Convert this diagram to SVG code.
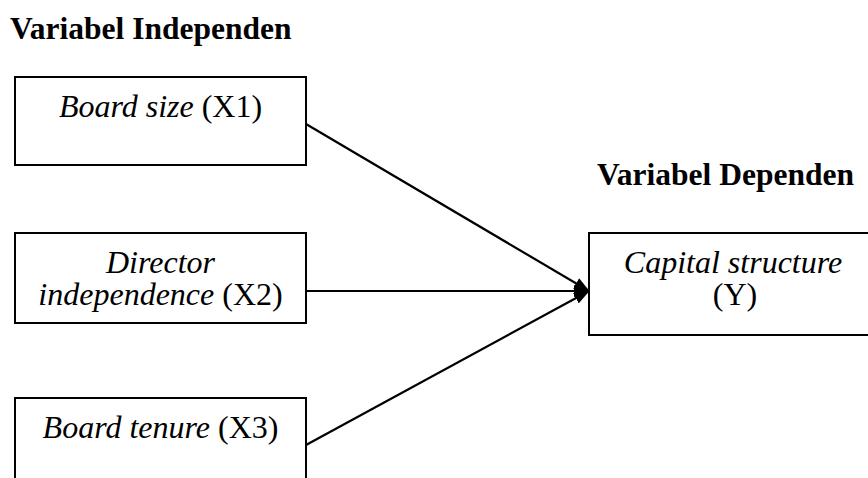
<svg xmlns="http://www.w3.org/2000/svg" width="868" height="478" viewBox="0 0 868 478">
<style>
.box{fill:#fff;stroke:#000;stroke-width:2}
.t{font-family:"Liberation Serif","Times New Roman",serif;font-size:32px;fill:#000;text-anchor:middle}
.i{font-style:italic}
.h{font-family:"Liberation Serif","Times New Roman",serif;font-size:31.5px;font-weight:bold;fill:#000}
.c{stroke:#000;stroke-width:2.2;fill:none;marker-end:url(#ah)}
</style>
<defs>
<marker id="ah" markerUnits="userSpaceOnUse" markerWidth="16" markerHeight="12" refX="15" refY="6" orient="auto">
<path d="M0,0 L16,6 L0,12 z" fill="#000"/>
</marker>
</defs>
<text class="h" x="10" y="39">Variabel Independen</text>
<text class="h" x="597" y="185">Variabel Dependen</text>
<g id="connectors">
<line class="c" x1="306" y1="124" x2="589" y2="291"/>
<line class="c" x1="306" y1="291" x2="589" y2="291"/>
<line class="c" x1="306" y1="445" x2="589" y2="291"/>
</g>
<g id="x1">
<rect class="box" x="15" y="77" width="291" height="88"/>
<text class="t" x="160.5" y="117"><tspan class="i">Board size</tspan> (X1)</text>
</g>
<g id="x2">
<rect class="box" x="15" y="233" width="291" height="90"/>
<text class="t" x="160.5" y="273"><tspan class="i">Director</tspan></text>
<text class="t" x="160.5" y="305"><tspan class="i">independence</tspan> (X2)</text>
</g>
<g id="x3">
<rect class="box" x="15" y="398" width="291" height="100"/>
<text class="t" x="160.5" y="438"><tspan class="i">Board tenure</tspan> (X3)</text>
</g>
<g id="y">
<rect class="box" x="589" y="233" width="290" height="102"/>
<text class="t" x="733" y="273"><tspan class="i">Capital structure</tspan></text>
<text class="t" x="735" y="305">(Y)</text>
</g>
</svg>
